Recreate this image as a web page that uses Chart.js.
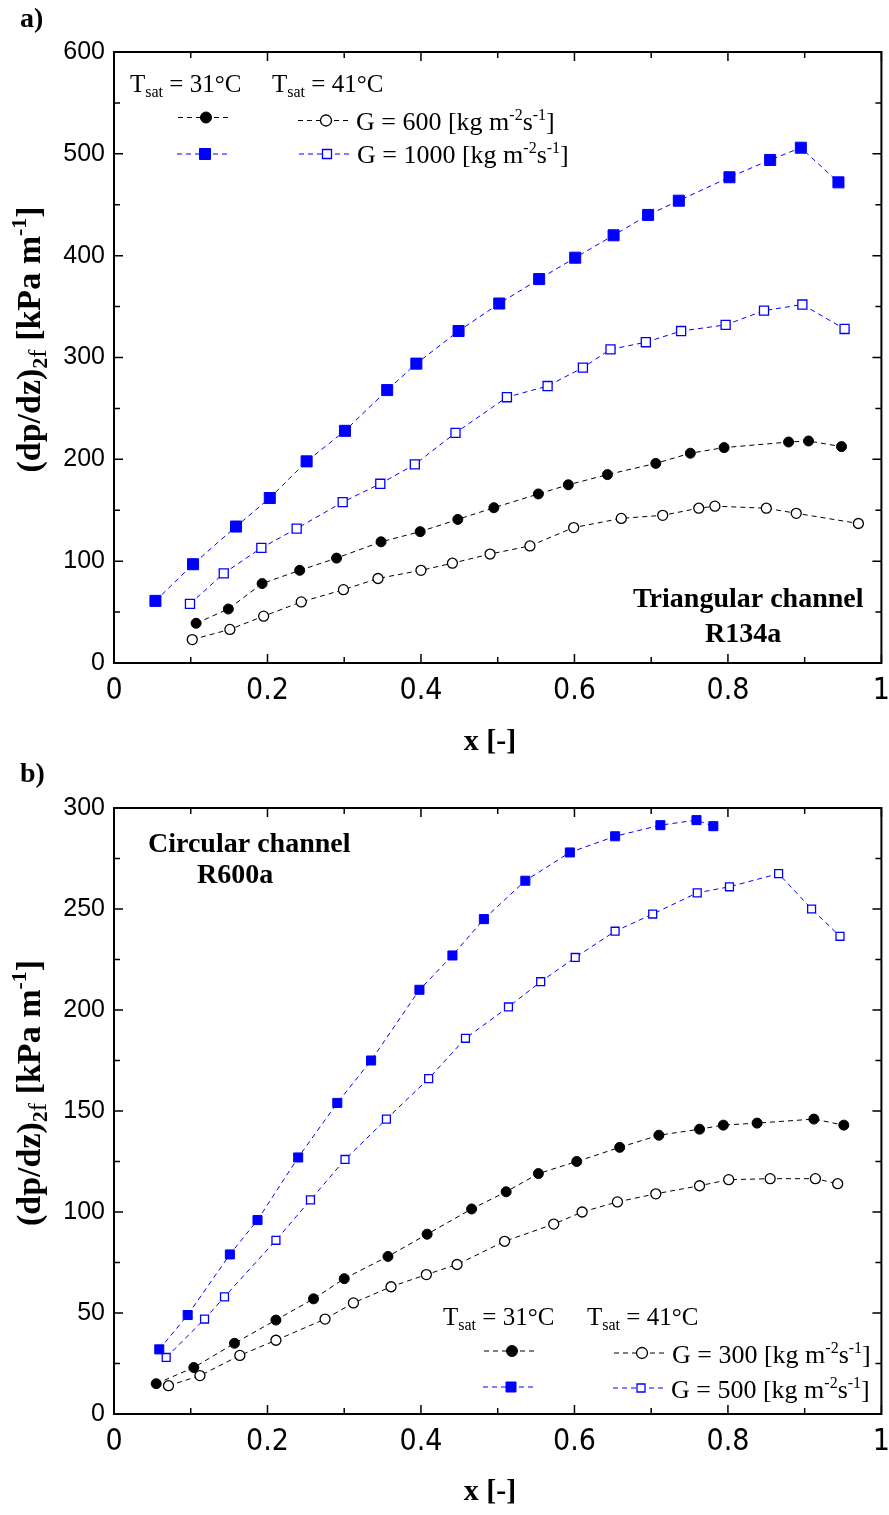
<!DOCTYPE html>
<html>
<head>
<meta charset="utf-8">
<title>Two-phase frictional pressure gradient</title>
<script src="https://cdn.jsdelivr.net/npm/chart.js@4.4.1/dist/chart.umd.min.js"></script>
<style>
  html, body { margin: 0; padding: 0; background: #fff; overflow: hidden; }
  #wrap { position: relative; width: 889px; height: 1515px; overflow: hidden; }
  canvas { position: absolute; left: 0; }
</style>
</head>
<body>
<div id="wrap">
  <canvas id="chartA" width="900" height="757" style="top:0px"></canvas>
  <canvas id="chartB" width="900" height="758" style="top:757px"></canvas>
</div>
<script>
// ---------------- data: (a) triangular channel, R134a ----------------
const xA31G600  = [0.107, 0.149, 0.193, 0.242, 0.290, 0.348, 0.399, 0.448, 0.495, 0.553, 0.592, 0.643, 0.706, 0.751, 0.795, 0.879, 0.905, 0.948];
const yA31G600  = [39, 53, 78, 91, 103, 119, 129, 141, 152.5, 166, 175, 185, 196, 206, 211.5, 217, 218, 212.5];
const xA41G600  = [0.102, 0.151, 0.195, 0.244, 0.299, 0.344, 0.400, 0.441, 0.490, 0.542, 0.599, 0.661, 0.715, 0.762, 0.783, 0.850, 0.889, 0.970];
const yA41G600  = [23, 33, 46, 60, 72, 83, 91, 98, 107, 115, 133, 142, 145, 152, 154, 152, 147, 137];
const xA31G1000 = [0.054, 0.103, 0.159, 0.203, 0.251, 0.301, 0.356, 0.394, 0.449, 0.502, 0.554, 0.601, 0.651, 0.696, 0.736, 0.802, 0.855, 0.895, 0.944];
const yA31G1000 = [61, 97, 134, 162, 198, 228, 268, 294, 326, 353, 377, 398, 420, 440, 454, 477, 494, 506, 472];
const xA41G1000 = [0.099, 0.143, 0.192, 0.238, 0.298, 0.347, 0.392, 0.445, 0.512, 0.565, 0.611, 0.647, 0.693, 0.739, 0.797, 0.847, 0.897, 0.952];
const yA41G1000 = [58, 88, 113, 132, 158, 176, 195, 226, 261, 272, 290, 308, 315, 326, 332, 346, 352, 328];

// ---------------- data: (b) circular channel, R600a ----------------
const xB31G300 = [0.055, 0.104, 0.157, 0.211, 0.260, 0.300, 0.357, 0.408, 0.466, 0.511, 0.553, 0.603, 0.659, 0.710, 0.763, 0.794, 0.838, 0.912, 0.951];
const yB31G300 = [15, 23, 35, 46.5, 57, 67, 78, 89, 101.5, 110, 119, 125, 132, 138, 141, 143, 144, 146, 143];
const xB41G300 = [0.071, 0.112, 0.164, 0.211, 0.275, 0.312, 0.361, 0.407, 0.447, 0.509, 0.573, 0.610, 0.656, 0.706, 0.763, 0.801, 0.855, 0.914, 0.943];
const yB41G300 = [14, 19, 29, 36.5, 47, 55, 63, 69, 74, 85.5, 94, 100, 105, 109, 113, 116, 116.5, 116.5, 114];
const xB31G500 = [0.059, 0.096, 0.151, 0.187, 0.240, 0.291, 0.335, 0.398, 0.441, 0.482, 0.536, 0.594, 0.653, 0.712, 0.759, 0.781];
const yB31G500 = [32, 49, 79, 96, 127, 154, 175, 210, 227, 245, 264, 278, 286, 291.5, 294, 291];
const xB41G500 = [0.068, 0.118, 0.144, 0.211, 0.256, 0.301, 0.355, 0.410, 0.458, 0.514, 0.556, 0.601, 0.653, 0.702, 0.760, 0.802, 0.866, 0.909, 0.946];
const yB41G500 = [28, 47, 58, 86, 106, 126, 146, 166, 186, 201.5, 214, 226, 239, 247.5, 258, 261, 267.5, 250, 236.5];

// axis ranges and tick steps
const xTicks = [0, 0.2, 0.4, 0.6, 0.8, 1];
const yMaxA = 600, yStepA = 100;
const yMaxB = 300, yStepB = 50;

// ------------------ //
//  HELPER FUNCTIONS  //
// ------------------ //

const SERIF = "'Liberation Serif', 'Times New Roman', serif";
const BLUE = '#0000ff';

function toPoints(xs, ys) {
  return xs.map((x, i) => ({ x: x, y: ys[i] }));
}

// one dashed series with filled / open circle or square markers
function series(label, xs, ys, color, style, filled, radius) {
  return {
    label: label,
    data: toPoints(xs, ys),
    showLine: true,
    borderColor: color,
    borderWidth: 1,
    borderDash: [5, 4],
    pointStyle: style,
    pointRadius: radius,
    pointBorderColor: color,
    pointBorderWidth: filled ? 1 : 1.3,
    pointBackgroundColor: filled ? color : '#fff'
  };
}

// draws a run of text pieces: [text, fontSize, bold, dy]
function richText(ctx, x, y, parts) {
  let cx = x;
  parts.forEach(p => {
    ctx.font = (p[2] ? 'bold ' : '') + p[1] + 'px ' + SERIF;
    ctx.fillText(p[0], cx, y + (p[3] || 0));
    cx += ctx.measureText(p[0]).width;
  });
  return cx - x;
}

function textWidth(ctx, parts) {
  let w = 0;
  parts.forEach(p => {
    ctx.font = (p[2] ? 'bold ' : '') + p[1] + 'px ' + SERIF;
    w += ctx.measureText(p[0]).width;
  });
  return w;
}

function marker(ctx, x, y, style, filled, color, size) {
  ctx.save();
  ctx.setLineDash([]);
  ctx.strokeStyle = color;
  ctx.fillStyle = filled ? color : '#fff';
  ctx.lineWidth = filled ? 1 : 1.3;
  ctx.beginPath();
  if (style === 'circle') {
    ctx.arc(x, y, size, 0, Math.PI * 2);
  } else {
    ctx.rect(x - size, y - size, size * 2, size * 2);
  }
  ctx.fill();
  ctx.stroke();
  ctx.restore();
}

function legendLine(ctx, x1, x2, y, color) {
  ctx.save();
  ctx.strokeStyle = color;
  ctx.lineWidth = 1;
  ctx.setLineDash([5, 4]);
  ctx.beginPath();
  ctx.moveTo(x1, y);
  ctx.lineTo(x2, y);
  ctx.stroke();
  ctx.restore();
}

// frame, inward ticks, titles, legend and labels for one panel
function makeDecor(cfg) {
  return {
    id: 'decor',
    afterDraw(chart) {
      const ctx = chart.ctx;
      const a = chart.chartArea;
      const xs = chart.scales.x, ys = chart.scales.y;
      ctx.save();
      ctx.strokeStyle = '#000';
      ctx.fillStyle = '#000';
      ctx.lineWidth = 1.5;

      // x ticks every 0.1, labelled ones longer
      ctx.beginPath();
      for (let i = 0; i <= 10; i++) {
        const px = xs.getPixelForValue(i / 10);
        const len = i % 2 === 0 ? 9 : 6;
        ctx.moveTo(px, a.bottom); ctx.lineTo(px, a.bottom - len);
        ctx.moveTo(px, a.top); ctx.lineTo(px, a.top + len);
      }
      // y ticks at half steps
      const half = cfg.yStep / 2;
      for (let v = 0, i = 0; v <= cfg.yMax; v += half, i++) {
        const py = ys.getPixelForValue(v);
        const len = i % 2 === 0 ? 9 : 6;
        ctx.moveTo(a.left, py); ctx.lineTo(a.left + len, py);
        ctx.moveTo(a.right, py); ctx.lineTo(a.right - len, py);
      }
      ctx.stroke();

      ctx.lineWidth = 2;
      ctx.strokeRect(a.left, a.top, a.right - a.left, a.bottom - a.top);

      // panel letter
      ctx.textBaseline = 'alphabetic';
      ctx.textAlign = 'left';
      richText(ctx, cfg.letter[1], cfg.letter[2], [[cfg.letter[0], 28, true]]);

      // x axis title
      const xt = [['x [-]', 30, true]];
      richText(ctx, cfg.xTitle[0] - textWidth(ctx, xt) / 2, cfg.xTitle[1], xt);

      // y axis title, rotated
      const yt = [
        ['(dp/dz)', 34, true], ['2', 22, true, 7], ['f', 25, false, 6],
        [' [kPa m', 34, true], ['-1', 22, true, -14], [']', 34, true]
      ];
      ctx.save();
      ctx.translate(cfg.yTitle[0], (a.top + a.bottom) / 2 + cfg.yTitle[1]);
      ctx.rotate(-Math.PI / 2);
      richText(ctx, -textWidth(ctx, yt) / 2, 0, yt);
      ctx.restore();

      // channel / fluid note
      cfg.notes.forEach(n => richText(ctx, n[1], n[2], [[n[0], 28, true]]));

      // legend
      const L = cfg.legend;
      richText(ctx, L.h1[0], L.h1[1], [['T', 25], ['sat', 16, false, 5], [' = 31°C', 25]]);
      richText(ctx, L.h2[0], L.h2[1], [['T', 25], ['sat', 16, false, 5], [' = 41°C', 25]]);
      L.rows.forEach(r => {
        legendLine(ctx, r.fill[0] - 28, r.fill[0] + 26, r.fill[1], r.color);
        marker(ctx, r.fill[0], r.fill[1], r.style, true, r.color, r.size);
        legendLine(ctx, r.open[0] - 28, r.open[0] + 26, r.open[1], r.color);
        marker(ctx, r.open[0], r.open[1], r.style, false, r.color, r.style === 'circle' ? r.size : r.size - 1);
        richText(ctx, r.open[0] + 30, r.base, [
          ['G = ' + r.g + ' [kg m', 26], ['-2', 16, false, -10], ['s', 26], ['-1', 16, false, -10], [']', 26]
        ]);
      });
      ctx.restore();
    }
  };
}

function makeChart(canvasId, datasets, yMax, yStep, padTop, xHeight, decor) {
  return new Chart(document.getElementById(canvasId), {
    type: 'scatter',
    data: { datasets: datasets },
    options: {
      responsive: false,
      animation: false,
      layout: { padding: { top: padTop, right: 17, left: 0, bottom: 0 } },
      plugins: { legend: { display: false }, tooltip: { enabled: false } },
      scales: {
        x: {
          type: 'linear', min: 0, max: 1,
          afterFit: s => { s.height = xHeight; },
          afterBuildTicks: s => { s.ticks = xTicks.map(v => ({ value: v })); },
          grid: { display: false, drawTicks: false },
          border: { display: false },
          ticks: {
            padding: 10, color: '#000',
            font: { family: "'Liberation Sans Narrow', 'Arial Narrow', 'DejaVu Sans Condensed', sans-serif", size: 30 },
            callback: v => (v === 0 || v === 1) ? String(v) : v.toFixed(1)
          }
        },
        y: {
          type: 'linear', min: 0, max: yMax,
          afterFit: s => { s.width = 114; },
          grid: { display: false, drawTicks: false },
          border: { display: false },
          ticks: {
            stepSize: yStep, padding: 9, color: '#000',
            font: { family: "'Liberation Sans', Arial, sans-serif", size: 25 }
          }
        }
      }
    },
    plugins: [makeDecor(decor)]
  });
}

// ----------- //
//  PANEL (a)  //
// ----------- //
makeChart('chartA', [
  series('31°C, G = 1000', xA31G1000, yA31G1000, BLUE, 'rect', true, 7.8),
  series('41°C, G = 1000', xA41G1000, yA41G1000, BLUE, 'rect', false, 6.4),
  series('31°C, G = 600', xA31G600, yA31G600, '#000', 'circle', true, 5),
  series('41°C, G = 600', xA41G600, yA41G600, '#000', 'circle', false, 5)
], yMaxA, yStepA, 52, 94, {
  yMax: yMaxA, yStep: yStepA,
  letter: ['a)', 20, 27],
  xTitle: [490, 750],
  yTitle: [40, -18],
  notes: [['Triangular channel', 633, 607], ['R134a', 705, 642]],
  legend: {
    h1: [130, 92], h2: [272, 92],
    rows: [
      { g: 600, color: '#000', style: 'circle', size: 5.5, fill: [206, 117.5], open: [326, 120.5], base: 130 },
      { g: 1000, color: BLUE, style: 'rect', size: 5.5, fill: [205, 154], open: [327, 154], base: 163 }
    ]
  }
});

// ----------- //
//  PANEL (b)  //
// ----------- //
makeChart('chartB', [
  series('31°C, G = 500', xB31G500, yB31G500, BLUE, 'rect', true, 6.4),
  series('41°C, G = 500', xB41G500, yB41G500, BLUE, 'rect', false, 5.6),
  series('31°C, G = 300', xB31G300, yB31G300, '#000', 'circle', true, 5),
  series('41°C, G = 300', xB41G300, yB41G300, '#000', 'circle', false, 5)
], yMaxB, yStepB, 51, 101, {
  yMax: yMaxB, yStep: yStepB,
  letter: ['b)', 20, 25],
  xTitle: [490, 743],
  yTitle: [40, -18],
  notes: [['Circular channel', 148, 95], ['R600a', 197, 126]],
  legend: {
    h1: [443, 568], h2: [587, 568],
    rows: [
      { g: 300, color: '#000', style: 'circle', size: 5.5, fill: [512, 594], open: [642, 596], base: 606 },
      { g: 500, color: BLUE, style: 'rect', size: 5, fill: [511, 630], open: [641, 631], base: 641 }
    ]
  }
});
</script>
</body>
</html>
